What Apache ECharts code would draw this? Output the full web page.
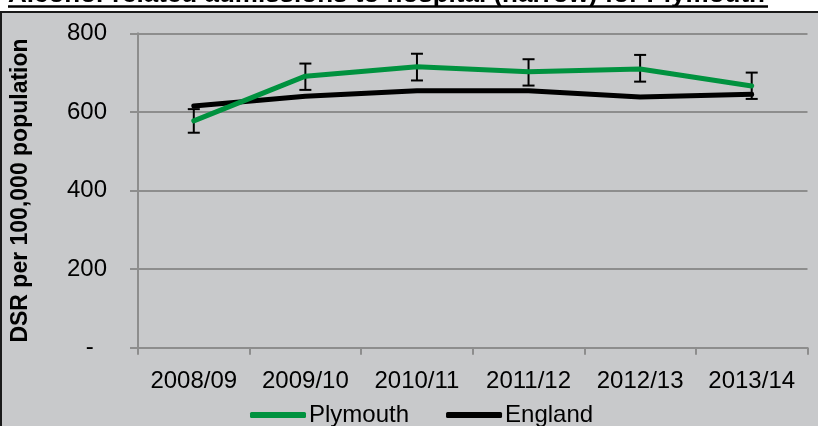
<!DOCTYPE html>
<html>
<head>
<meta charset="utf-8">
<script src="https://cdn.jsdelivr.net/npm/echarts@6/dist/echarts.min.js"></script>
<style>
  html, body { margin: 0; padding: 0; background: #ffffff; }
  #chart { width: 818px; height: 426px; }
</style>
</head>
<body>
<div id="chart"></div>
<script>
const titleText = 'Alcohol-related admissions to hospital (narrow) for Plymouth';
const yAxisTitle = 'DSR per 100,000 population';
const categories = ['2008/09', '2009/10', '2010/11', '2011/12', '2012/13', '2013/14'];
const plymouth = [577, 691, 715, 702, 709, 666];
const plymouthLower = [547, 656, 680, 667, 677, 633];
const plymouthUpper = [607, 723, 748, 734, 745, 700];
const england = [615, 640, 654, 654, 638, 645];
const yTicks = [0, 200, 400, 600, 800];

const FONT = '"Liberation Sans", Arial, sans-serif';
const GREEN = '#00923f';
const GRID_GRAY = '#8d8d8d';

const errorData = categories.map((c, i) => [i, plymouthLower[i], plymouthUpper[i]]);

const chart = echarts.init(document.getElementById('chart'), null, { renderer: 'canvas' });

chart.setOption({
  backgroundColor: '#ffffff',
  animation: false,
  textStyle: { fontFamily: FONT },
  graphic: [
    {
      type: 'rect',
      z: -100,
      shape: { x: 1, y: 12, width: 900, height: 500 },
      style: { fill: '#c8c9cb', stroke: '#1a1a1a', lineWidth: 2 }
    },
    {
      type: 'text',
      z: 10,
      x: 8,
      y: -5,
      style: {
        text: titleText,
        font: 'bold 26px ' + FONT,
        fill: '#000000',
        verticalAlign: 'middle',
        align: 'left'
      }
    },
    {
      type: 'line',
      z: 10,
      shape: { x1: 8, y1: 6.5, x2: 768, y2: 6.5 },
      style: { stroke: '#000000', lineWidth: 2.5 }
    }
  ],
  grid: { left: 138, right: 10.5, top: 33.3, bottom: 78.3, containLabel: false },
  legend: {
    left: 245,
    top: 398,
    itemWidth: 56,
    itemHeight: 6,
    itemGap: 37,
    icon: 'roundRect',
    textStyle: { fontFamily: FONT, fontSize: 24, color: '#000000', padding: [0, 0, 0, -2] },
    data: ['Plymouth', 'England']
  },
  xAxis: {
    type: 'category',
    data: categories,
    boundaryGap: true,
    axisLine: { show: true, lineStyle: { color: GRID_GRAY, width: 2 } },
    axisTick: { show: true, length: 7, interval: 0, lineStyle: { color: GRID_GRAY, width: 2 } },
    axisLabel: { fontFamily: FONT, fontSize: 24, color: '#000000', margin: 22, interval: 0 },
    splitLine: { show: false }
  },
  yAxis: {
    type: 'value',
    min: yTicks[0],
    max: yTicks[yTicks.length - 1],
    interval: 200,
    name: yAxisTitle,
    nameLocation: 'middle',
    nameGap: 106,
    nameRotate: 90,
    nameTextStyle: { fontFamily: FONT, fontSize: 23, fontWeight: 'bold', color: '#000000' },
    axisLine: { show: true, lineStyle: { color: GRID_GRAY, width: 2 } },
    axisTick: { show: true, length: 8, lineStyle: { color: GRID_GRAY, width: 2 } },
    axisLabel: {
      fontFamily: FONT, fontSize: 24, color: '#000000', margin: 31,
      formatter: v => (v === 0 ? '-  ' : String(v))
    },
    splitLine: { show: true, lineStyle: { color: GRID_GRAY, width: 2 } }
  },
  series: [
    {
      name: 'England',
      type: 'line',
      data: england,
      z: 3,
      symbol: 'none',
      lineStyle: { color: '#000000', width: 5, join: 'round', cap: 'round' },
      itemStyle: { color: '#000000' }
    },
    {
      name: 'Plymouth CI',
      type: 'custom',
      z: 4,
      data: errorData,
      encode: { x: 0, y: [1, 2] },
      renderItem: function (params, api) {
        const lo = api.coord([api.value(0), api.value(1)]);
        const hi = api.coord([api.value(0), api.value(2)]);
        const hw = 6;
        const st = { stroke: '#000000', lineWidth: 2 };
        return {
          type: 'group',
          children: [
            { type: 'line', shape: { x1: lo[0], y1: lo[1], x2: hi[0], y2: hi[1] }, style: st },
            { type: 'line', shape: { x1: lo[0] - hw, y1: lo[1], x2: lo[0] + hw, y2: lo[1] }, style: st },
            { type: 'line', shape: { x1: hi[0] - hw, y1: hi[1], x2: hi[0] + hw, y2: hi[1] }, style: st }
          ]
        };
      }
    },
    {
      name: 'Plymouth',
      type: 'line',
      data: plymouth,
      z: 5,
      symbol: 'none',
      lineStyle: { color: GREEN, width: 5, join: 'round', cap: 'round' },
      itemStyle: { color: GREEN }
    }
  ]
});
</script>
</body>
</html>
